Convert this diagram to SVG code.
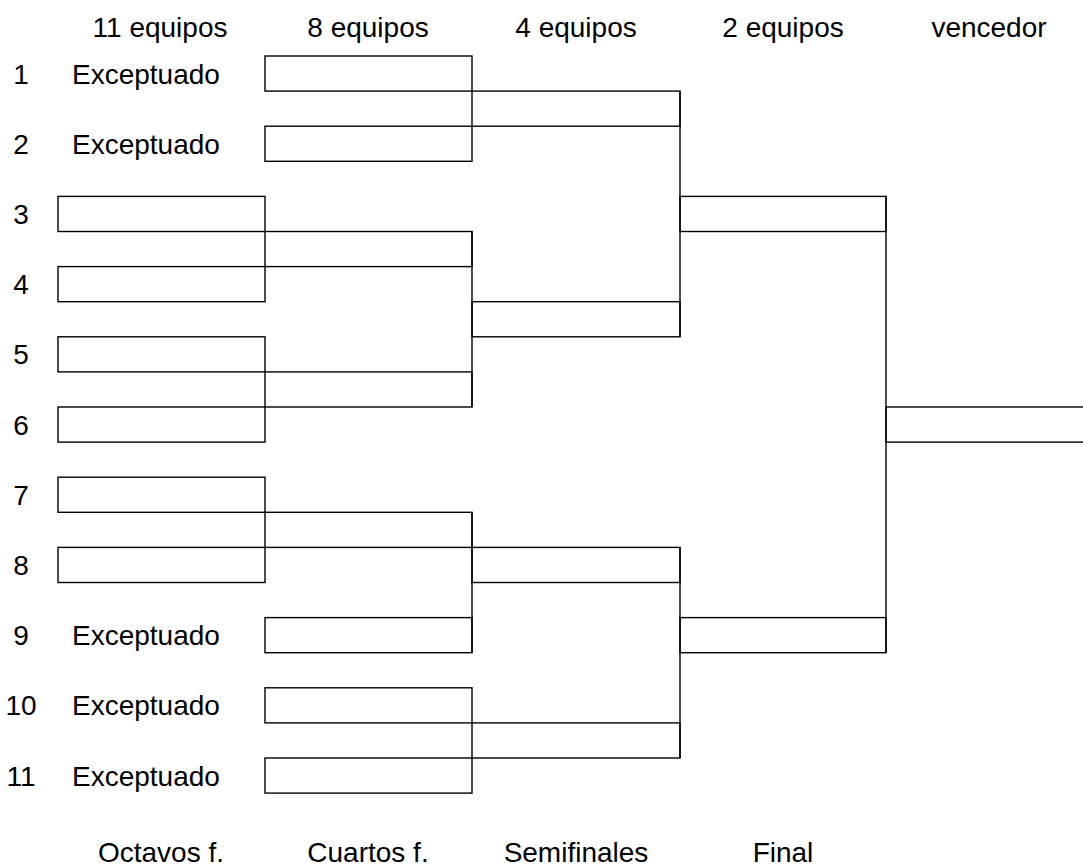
<svg xmlns="http://www.w3.org/2000/svg" width="1083" height="867" viewBox="0 0 1083 867">
<style>
.b{fill:none;stroke:#000;stroke-width:1.4}
.c{fill:none;stroke:#000;stroke-width:1.4}
text{font-family:"Liberation Sans",Arial,sans-serif;font-size:28px;fill:#000}
.m{text-anchor:middle}
</style>
<rect width="1083" height="867" fill="#fff"/>
<g id="headers">
<text class="m" x="160" y="37">11 equipos</text>
<text class="m" x="368" y="37">8 equipos</text>
<text class="m" x="576" y="37">4 equipos</text>
<text class="m" x="783" y="37">2 equipos</text>
<text class="m" x="989" y="37">vencedor</text>
</g>
<g id="rowlabels">
<text class="m" x="21" y="83.5">1</text><text x="72" y="83.5">Exceptuado</text>
<text class="m" x="21" y="153.7">2</text><text x="72" y="153.7">Exceptuado</text>
<text class="m" x="21" y="223.9">3</text>
<text class="m" x="21" y="294.1">4</text>
<text class="m" x="21" y="364.3">5</text>
<text class="m" x="21" y="434.5">6</text>
<text class="m" x="21" y="504.7">7</text>
<text class="m" x="21" y="574.9">8</text>
<text class="m" x="21" y="645.1">9</text><text x="72" y="645.1">Exceptuado</text>
<text class="m" x="21" y="715.3">10</text><text x="72" y="715.3">Exceptuado</text>
<text class="m" x="21" y="785.5">11</text><text x="72" y="785.5">Exceptuado</text>
</g>
<g id="footers">
<text class="m" x="161" y="862">Octavos f.</text>
<text class="m" x="368" y="862">Cuartos f.</text>
<text class="m" x="576" y="862">Semifinales</text>
<text class="m" x="783" y="862">Final</text>
</g>
<g id="octavos">
<g id="o3"><rect class="b" x="58" y="196.4" width="207" height="35.1"/></g>
<g id="o4"><rect class="b" x="58" y="266.6" width="207" height="35.1"/></g>
<g id="o5"><rect class="b" x="58" y="336.8" width="207" height="35.1"/></g>
<g id="o6"><rect class="b" x="58" y="407" width="207" height="35.1"/></g>
<g id="o7"><rect class="b" x="58" y="477.2" width="207" height="35.1"/></g>
<g id="o8"><rect class="b" x="58" y="547.4" width="207" height="35.1"/></g>
</g>
<g id="cuartos">
<g id="q1"><rect class="b" x="265" y="56" width="207" height="35.1"/></g>
<g id="q2"><rect class="b" x="265" y="126.2" width="207" height="35.1"/></g>
<g id="q34"><rect class="b" x="265" y="231.5" width="207" height="35.1"/></g>
<g id="q56"><rect class="b" x="265" y="371.9" width="207" height="35.1"/></g>
<g id="q78"><rect class="b" x="265" y="512.3" width="207" height="35.1"/></g>
<g id="q9"><rect class="b" x="265" y="617.6" width="207" height="35.1"/></g>
<g id="q10"><rect class="b" x="265" y="687.8" width="207" height="35.1"/></g>
<g id="q11"><rect class="b" x="265" y="758" width="207" height="35.1"/></g>
</g>
<g id="semis">
<g id="s1"><rect class="b" x="472" y="91.1" width="208" height="35.1"/></g>
<g id="s2"><rect class="b" x="472" y="301.7" width="208" height="35.1"/></g>
<g id="s3"><rect class="b" x="472" y="547.4" width="208" height="35.1"/></g>
<g id="s4"><rect class="b" x="472" y="722.9" width="208" height="35.1"/></g>
</g>
<g id="final">
<g id="f1"><rect class="b" x="680" y="196.4" width="206" height="35.1"/></g>
<g id="f2"><rect class="b" x="680" y="617.6" width="206" height="35.1"/></g>
</g>
<g id="winner"><rect class="b" x="886" y="407" width="210" height="35.1"/></g>
<g id="connectors">
<line class="c" x1="472" y1="231.5" x2="472" y2="407"/>
<line class="c" x1="472" y1="512.3" x2="472" y2="652.7"/>
<line class="c" x1="680" y1="91.1" x2="680" y2="336.8"/>
<line class="c" x1="680" y1="547.4" x2="680" y2="758"/>
<line class="c" x1="886" y1="196.4" x2="886" y2="652.7"/>
</g>
</svg>
